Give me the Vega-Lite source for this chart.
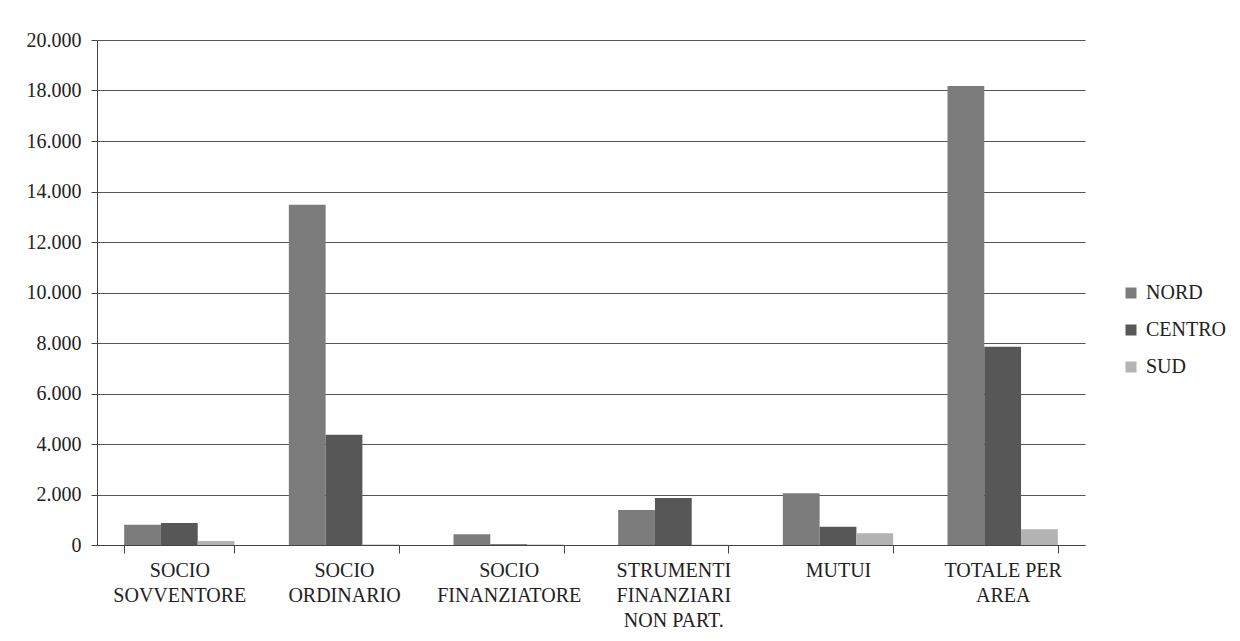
{
  "$schema": "https://vega.github.io/schema/vega-lite/v6.json",
  "width": 988,
  "height": 505,
  "autosize": {"type": "none"},
  "padding": {"left": 97, "top": 40, "right": 155, "bottom": 96},
  "background": "white",
  "config": {
    "font": "Liberation Serif",
    "view": {"stroke": null}
  },
  "data": {
    "values": [
      {"categoria": "SOCIO\nSOVVENTORE", "area": "NORD", "valore": 800},
      {"categoria": "SOCIO\nSOVVENTORE", "area": "CENTRO", "valore": 870},
      {"categoria": "SOCIO\nSOVVENTORE", "area": "SUD", "valore": 160},
      {"categoria": "SOCIO\nORDINARIO", "area": "NORD", "valore": 13480},
      {"categoria": "SOCIO\nORDINARIO", "area": "CENTRO", "valore": 4370},
      {"categoria": "SOCIO\nORDINARIO", "area": "SUD", "valore": 20},
      {"categoria": "SOCIO\nFINANZIATORE", "area": "NORD", "valore": 430},
      {"categoria": "SOCIO\nFINANZIATORE", "area": "CENTRO", "valore": 30},
      {"categoria": "SOCIO\nFINANZIATORE", "area": "SUD", "valore": 20},
      {"categoria": "STRUMENTI\nFINANZIARI\nNON PART.", "area": "NORD", "valore": 1390},
      {"categoria": "STRUMENTI\nFINANZIARI\nNON PART.", "area": "CENTRO", "valore": 1860},
      {"categoria": "STRUMENTI\nFINANZIARI\nNON PART.", "area": "SUD", "valore": 10},
      {"categoria": "MUTUI", "area": "NORD", "valore": 2050},
      {"categoria": "MUTUI", "area": "CENTRO", "valore": 720},
      {"categoria": "MUTUI", "area": "SUD", "valore": 470},
      {"categoria": "TOTALE PER\nAREA", "area": "NORD", "valore": 18180},
      {"categoria": "TOTALE PER\nAREA", "area": "CENTRO", "valore": 7850},
      {"categoria": "TOTALE PER\nAREA", "area": "SUD", "valore": 620}
    ]
  },
  "mark": {"type": "bar"},
  "encoding": {
    "x": {
      "field": "categoria",
      "type": "nominal",
      "sort": null,
      "scale": {"paddingInner": 0.33, "paddingOuter": 0.165},
      "axis": {
        "title": null,
        "labelAngle": 0,
        "labelExpr": "split(datum.label, '\\n')",
        "labelFont": "Liberation Serif",
        "labelFontSize": 20,
        "labelColor": "#222",
        "labelLineHeight": 25,
        "labelBaseline": "top",
        "labelPadding": 7,
        "labelLimit": 300,
        "tickBand": "extent",
        "tickSize": 8,
        "tickColor": "#444",
        "domainColor": "#444",
        "grid": false
      }
    },
    "xOffset": {"field": "area", "type": "nominal", "sort": ["NORD", "CENTRO", "SUD"], "scale": {"paddingInner": 0, "paddingOuter": 0}},
    "y": {
      "field": "valore",
      "type": "quantitative",
      "scale": {"domain": [0, 20000], "nice": false},
      "axis": {
        "title": null,
        "values": [0, 2000, 4000, 6000, 8000, 10000, 12000, 14000, 16000, 18000, 20000],
        "labelExpr": "replace(format(datum.value, ','), ',', '.')",
        "labelFont": "Liberation Serif",
        "labelFontSize": 20,
        "labelColor": "#222",
        "labelPadding": 10,
        "tickSize": 6,
        "tickColor": "#444",
        "domainColor": "#444",
        "gridColor": "#555",
        "gridOpacity": 1,
        "gridWidth": 1.2
      }
    },
    "color": {
      "field": "area",
      "type": "nominal",
      "sort": ["NORD", "CENTRO", "SUD"],
      "scale": {"domain": ["NORD", "CENTRO", "SUD"], "range": ["#7c7c7c", "#575757", "#b3b3b3"]},
      "legend": {
        "title": null,
        "orient": "none",
        "legendX": 1024,
        "legendY": 243,
        "symbolType": "square",
        "symbolSize": 121,
        "symbolStrokeWidth": 0,
        "labelFont": "Liberation Serif",
        "labelFontSize": 20,
        "labelColor": "#222",
        "labelOffset": 5,
        "rowPadding": 17
      }
    }
  }
}
